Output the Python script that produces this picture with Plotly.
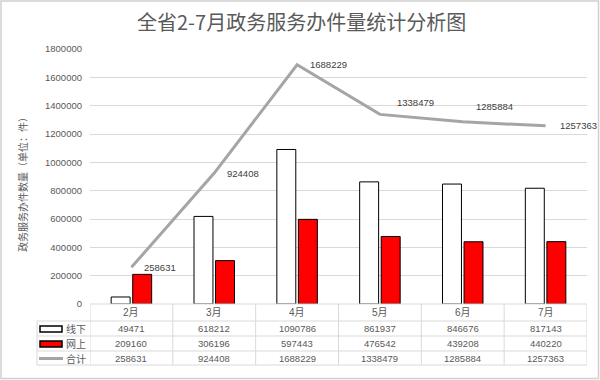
import plotly.graph_objects as go

# ---- data ----
months = ["2月", "3月", "4月", "5月", "6月", "7月"]
offline = [49471, 618212, 1090786, 861937, 846676, 817143]
online = [209160, 306196, 597443, 476542, 439208, 440220]
total = [258631, 924408, 1688229, 1338479, 1285884, 1257363]
series_names = ["线下", "网上", "合计"]
title_text = "全省2-7月政务服务办件量统计分析图"
ytitle_text = "政务服务办件数量（单位：件）"

# style: label offsets (px) for total line labels
label_dx = [11, 11, 11, 15, 11, 12]
label_dy = [0, 0, 0, 12, 15, 0]

W, H = 600, 380
L, R, T, B = 90, 13, 49, 76
PW, PH = W - L - R, H - T - B


def px(xp):
    return (xp - L) / PW


def py(yp):
    return (H - B - yp) / PH


NUMFONT = "Liberation Sans, Noto Sans CJK SC"
CJK = "Noto Sans CJK SC"
GRID = "#d9d9d9"
TXT = "#595959"

fig = go.Figure()
fig.add_trace(go.Bar(x=months, y=offline, name=series_names[0],
                     marker=dict(color="#ffffff", line=dict(color="#000000", width=1))))
fig.add_trace(go.Bar(x=months, y=online, name=series_names[1],
                     marker=dict(color="#ff0000", line=dict(color="#000000", width=1))))
fig.add_trace(go.Scatter(x=months, y=total, name=series_names[2], mode="lines",
                         line=dict(color="#a5a5a5", width=3), cliponaxis=False))

shapes = []
annotations = []


def ann(**kw):
    kw.setdefault("showarrow", False)
    kw.setdefault("xanchor", "center")
    kw.setdefault("yanchor", "middle")
    annotations.append(kw)


# data labels for the total line
for m, v, dx, dy in zip(months, total, label_dx, label_dy):
    ann(x=m, y=v, xref="x", yref="y", text=str(v), xanchor="left", xshift=dx, yshift=dy,
        font=dict(family=NUMFONT, size=9.5, color="#404040"))

# table geometry (pixel rows)
y_top, y_h, y_r1, y_r2, y_bot = 304, 321, 336, 351, 365
x_left = 37
line = dict(color=GRID, width=1)

for yy in [y_h, y_r1, y_r2, y_bot]:
    shapes.append(dict(type="line", xref="paper", yref="paper", x0=px(x_left), x1=1,
                       y0=py(yy), y1=py(yy), line=line))
n = len(months)
for i in range(n + 1):
    shapes.append(dict(type="line", xref="x", yref="paper", x0=i - 0.5, x1=i - 0.5,
                       y0=py(y_top), y1=py(y_bot), line=line))
shapes.append(dict(type="line", xref="paper", yref="paper", x0=px(x_left), x1=px(x_left),
                   y0=py(y_h), y1=py(y_bot), line=line))
shapes.append(dict(type="line", xref="paper", yref="paper", x0=0, x1=1,
                   y0=py(y_top), y1=py(y_top), line=line))

rows_y = [(y_h + y_r1) / 2, (y_r1 + y_r2) / 2, (y_r2 + y_bot) / 2]
for i, m in enumerate(months):
    ann(x=m, xref="x", yref="paper", y=py((y_top + y_h) / 2), text=m,
        font=dict(family=NUMFONT, size=10, color=TXT))
    for ry, vals in zip(rows_y, [offline, online, total]):
        ann(x=m, xref="x", yref="paper", y=py(ry), text=str(vals[i]),
            font=dict(family=NUMFONT, size=9.5, color=TXT))

# legend keys in table
shapes.append(dict(type="rect", xref="paper", yref="paper", x0=px(40), x1=px(62),
                   y0=py(332), y1=py(326), fillcolor="#ffffff", line=dict(color="#000000", width=1.5)))
shapes.append(dict(type="rect", xref="paper", yref="paper", x0=px(40), x1=px(62),
                   y0=py(347), y1=py(341), fillcolor="#ff0000", line=dict(color="#000000", width=1.5)))
shapes.append(dict(type="line", xref="paper", yref="paper", x0=px(39), x1=px(63),
                   y0=py(358.5), y1=py(358.5), line=dict(color="#a5a5a5", width=3)))
for ry, nm in zip(rows_y, series_names):
    ann(x=px(88), xref="paper", yref="paper", y=py(ry), text=nm, xanchor="right",
        font=dict(family=CJK, size=10, color=TXT))

# title & y title
ann(x=px(301), y=py(22), xref="paper", yref="paper", text=title_text,
    font=dict(family=CJK, size=20, color=TXT))
ann(x=px(23), y=py(182), xref="paper", yref="paper", text=ytitle_text, textangle=-90,
    font=dict(family=CJK, size=10, color=TXT))

# outer border
shapes.append(dict(type="rect", xref="paper", yref="paper", x0=px(1), x1=px(598.5),
                   y0=py(378.5), y1=py(1), line=dict(color="#d0d0d0", width=1.5),
                   fillcolor="rgba(0,0,0,0)", layer="below"))

fig.update_layout(
    width=W, height=H, margin=dict(l=L, r=R, t=T, b=B),
    paper_bgcolor="#ffffff", plot_bgcolor="#ffffff",
    showlegend=False, barmode="group", bargap=0.48, bargroupgap=0.12,
    shapes=shapes, annotations=annotations,
    xaxis=dict(showticklabels=False, showgrid=False, ticks="", showline=False,
               range=[-0.5, n - 0.5]),
    yaxis=dict(range=[0, 1800000], dtick=200000, tickformat="d", gridcolor=GRID,
               gridwidth=1, zeroline=False, showline=False, ticks="",
               ticklabelstandoff=7,
               tickfont=dict(family=NUMFONT, size=9.5, color=TXT)),
)

fig.write_html("out.html", config={"displayModeBar": False},
               post_script="document.body.style.margin='0';document.body.style.overflow='hidden';")
